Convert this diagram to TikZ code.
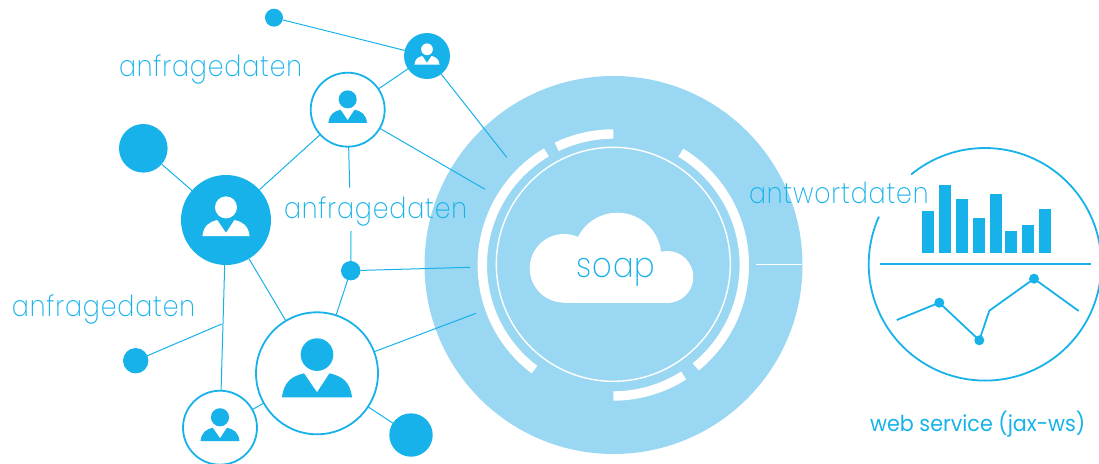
\documentclass[tikz,border=0pt]{standalone}
\usepackage{fontspec}
\setmainfont{Poppins}[UprightFont=* ExtraLight,LetterSpace=3,FakeStretch=0.87]
\newfontfamily\regfont{Poppins}[FakeStretch=0.94]
\definecolor{cyanmain}{HTML}{17B2E9}
\definecolor{cyanpale}{HTML}{9AD7F3}
\tikzset{
  dotnode/.style={circle,fill=cyanmain,inner sep=0pt,outer sep=0pt,minimum size=#1},
  ringnode/.style={circle,draw=cyanmain,fill=white,line width=1.8pt,inner sep=0pt,outer sep=0pt,minimum size=#1},
  linkline/.style={draw=cyanmain,line width=1pt},
  ringarc/.style={draw=white,line width=9.4pt},
  plotline/.style={draw=cyanmain,line width=1.8pt},
  bigtext/.style={anchor=base west,inner sep=0pt,outer sep=0pt,text=cyanmain,font=\fontsize{29}{34}\selectfont},
  barpart/.style={fill=cyanmain}
}
\newcommand{\usericon}[3]{%
  \begin{scope}[shift={(#1)},scale=#2]
    \fill[#3] (0,-18.7) circle[radius=16.3];
    \fill[#3] (-35,24) .. controls (-33,8) and (-25,3) .. (-13,0) -- (0,19) -- (12.5,0) .. controls (25,3) and (33,8) .. (35,24) -- cycle;
  \end{scope}}
\begin{document}
\begin{tikzpicture}[x=1pt,y=1pt,yscale=-1]
\useasboundingbox (0,0) rectangle (1099,463);
\clip (0,0) rectangle (1099,463);

% central disc
\fill[cyanpale] (613.5,265) circle[radius=189];
\draw[white,line width=1.4pt] (613.3,264.3) circle[radius=117];
\draw[ringarc] (613.3,265) ++(-120.7:131) arc[start angle=-120.7,end angle=-233,radius=131];
\draw[ringarc] (613.3,265) ++(-115.6:131) arc[start angle=-115.6,end angle=-90,radius=131];
\draw[ringarc] (613.3,265) ++(-59:131) arc[start angle=-59,end angle=51,radius=131];
\draw[ringarc] (613.3,265) ++(90:131) arc[start angle=90,end angle=57.5,radius=131];
\coordinate (tickA) at (756,264.7);
\coordinate (tickB) at (802,264.7);
\draw[white,line width=1.4pt] (tickA) -- (tickB);

% cloud
\fill[white] (564,268.3) circle[radius=34.3];
\fill[white] (617.3,256.7) circle[radius=44];
\fill[white] (667.3,277) circle[radius=26];
\fill[white] (564,262) rectangle (667.3,303);

% nodes
\node[dotnode=18pt] (dotTop) at (274,17.7) {};
\node[dotnode=46pt] (userA) at (427,56) {};
\node[ringnode=74pt] (userB) at (347.7,109.7) {};
\node[dotnode=48.6pt] (dotBig) at (143.3,148.3) {};
\node[dotnode=90pt] (userC) at (226,220) {};
\node[dotnode=19.4pt] (dotMid) at (350.7,270.7) {};
\node[dotnode=25.4pt] (dotLeft) at (135.7,360.7) {};
\node[ringnode=122pt] (userD) at (317,373.3) {};
\node[ringnode=74pt] (userE) at (220,427.7) {};
\node[dotnode=43.4pt] (dotLow) at (411,435) {};

% free line ends
\coordinate (freeA) at (506.7,157.3);
\coordinate (freeB) at (485,189.3);
\coordinate (freeC) at (470,267.3);
\coordinate (freeD) at (476,313.3);
\coordinate (stubA) at (349.7,187.7);
\coordinate (stubB) at (351,231);
\coordinate (joinL) at (221.7,324);

% connectors
\draw[linkline] (dotTop) -- (userA);
\draw[linkline] (userA) -- (userB);
\draw[linkline] (userA) -- (freeA);
\draw[linkline] (userB) -- (freeB);
\draw[linkline] (userB) -- (userC);
\draw[linkline] (dotBig) -- (userC);
\draw[linkline] (userB) -- (stubA);
\draw[linkline] (stubB) -- (dotMid);
\draw[linkline] (dotMid) -- (freeC);
\draw[linkline] (dotMid) -- (userD);
\draw[linkline] (userC) -- (userD);
\draw[linkline] (userC) -- (userE);
\draw[linkline] (dotLeft) -- (joinL);
\draw[linkline] (userE) -- (userD);
\draw[linkline] (userD) -- (dotLow);
\draw[linkline] (userD) -- (freeD);

% user icons
\usericon{userA}{0.36}{white}
\usericon{userB}{0.553}{cyanmain}
\usericon{userC}{0.675}{white}
\usericon{userD}{1}{cyanmain}
\usericon{userE}{0.557}{cyanmain}

% right panel
\coordinate (panelC) at (985,264.3);
\draw[plotline] (panelC) ++(-129.4:116.3) arc[start angle=-129.4,end angle=204.2,radius=116.3];
\coordinate (axisA) at (880,264.3);
\coordinate (axisB) at (1091,264.3);
\draw[plotline] (axisA) -- (axisB);
\fill[barpart] (922,211) rectangle (934,253);
\fill[barpart] (939,185) rectangle (951,253);
\fill[barpart] (956,199) rectangle (968,253);
\fill[barpart] (973,218) rectangle (985,253);
\fill[barpart] (990,194) rectangle (1002,253);
\fill[barpart] (1005,231) rectangle (1017,253);
\fill[barpart] (1022,225) rectangle (1034,253);
\fill[barpart] (1039,209) rectangle (1051,253);
\node[dotnode=10pt] (plotA) at (939.3,302.7) {};
\node[dotnode=10pt] (plotB) at (979.3,340.3) {};
\node[dotnode=10pt] (plotC) at (1034,278.7) {};
\coordinate (plotS) at (896.7,320);
\coordinate (plotK) at (989.3,310.7);
\coordinate (plotE) at (1078.7,311);
\draw[plotline] (plotS) -- (plotA.center) -- (plotB.center) -- (plotK) -- (plotC.center) -- (plotE);

% labels
\node[bigtext] (labA) at (119,76.7) {anfragedaten};
\node[bigtext] (labB) at (284,218.3) {anfragedaten};
\node[bigtext] (labC) at (12,316.7) {anfragedaten};
\node[bigtext] (labD) at (749,203.3) {antwortdaten};
\node[bigtext,font=\fontsize{35}{40}\selectfont] (labS) at (576.5,277.5) {soap};
\node[anchor=base west,inner sep=0pt,text=cyanmain,font=\regfont\fontsize{22}{26}\selectfont] (labW) at (870,431.7) {web service (jax-ws)};
\end{tikzpicture}
\end{document}
